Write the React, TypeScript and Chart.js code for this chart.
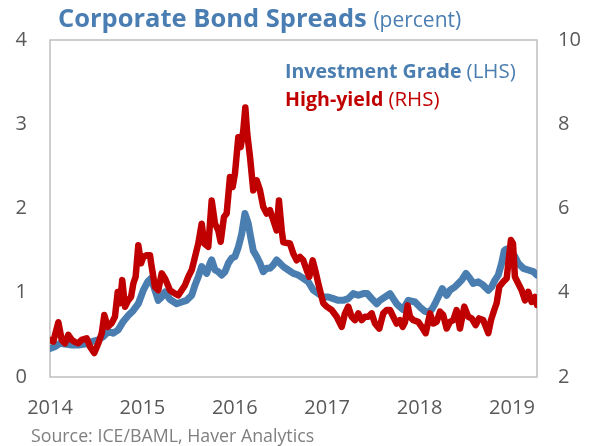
import React, { useEffect, useRef } from "react";
import { Chart, registerables } from "chart.js";

Chart.register(...registerables);

// ---- Data ----
const yearTicks = [2014, 2015, 2016, 2017, 2018, 2019];
const leftTicks = [0, 1, 2, 3, 4];
const rightTicks = [2, 4, 6, 8, 10];

const igDates = [
  2014.000, 2014.054, 2014.108, 2014.162, 2014.235, 2014.306, 2014.379, 2014.451, 2014.523, 2014.577,
  2014.631, 2014.685, 2014.739, 2014.793, 2014.847, 2014.902, 2014.956, 2015.010, 2015.057, 2015.093,
  2015.136, 2015.172, 2015.209, 2015.245, 2015.299, 2015.371, 2015.425, 2015.479, 2015.534, 2015.569,
  2015.605, 2015.642, 2015.696, 2015.732, 2015.750, 2015.786, 2015.821, 2015.858, 2015.894, 2015.930,
  2015.966, 2016.002, 2016.038, 2016.075, 2016.110, 2016.146, 2016.172, 2016.200, 2016.237, 2016.273,
  2016.308, 2016.345, 2016.381, 2016.417, 2016.453, 2016.489, 2016.525, 2016.579, 2016.633, 2016.687,
  2016.741, 2016.795, 2016.850, 2016.904, 2016.958, 2017.012, 2017.066, 2017.120, 2017.174, 2017.228,
  2017.282, 2017.337, 2017.391, 2017.434, 2017.482, 2017.536, 2017.571, 2017.626, 2017.680, 2017.715,
  2017.752, 2017.788, 2017.821, 2017.878, 2017.950, 2018.004, 2018.058, 2018.094, 2018.131, 2018.167,
  2018.202, 2018.246, 2018.293, 2018.329, 2018.383, 2018.419, 2018.456, 2018.502, 2018.545, 2018.581,
  2018.635, 2018.689, 2018.744, 2018.780, 2018.816, 2018.852, 2018.888, 2018.917, 2018.943, 2018.978,
  2019.032, 2019.068, 2019.122, 2019.176, 2019.231, 2019.271,
];
const igValues = [
  0.34, 0.36, 0.40, 0.39, 0.38, 0.38, 0.39, 0.42, 0.44, 0.48,
  0.54, 0.52, 0.56, 0.66, 0.73, 0.79, 0.87, 1.03, 1.13, 1.17,
  1.03, 0.91, 0.95, 1.01, 0.92, 0.87, 0.89, 0.91, 0.97, 1.09,
  1.19, 1.31, 1.23, 1.35, 1.39, 1.27, 1.25, 1.21, 1.25, 1.35,
  1.41, 1.43, 1.54, 1.70, 1.94, 1.82, 1.66, 1.50, 1.43, 1.35,
  1.25, 1.29, 1.29, 1.33, 1.39, 1.35, 1.31, 1.27, 1.23, 1.21,
  1.17, 1.13, 1.03, 0.99, 0.95, 0.95, 0.93, 0.91, 0.91, 0.93,
  0.99, 0.97, 0.99, 0.99, 0.93, 0.87, 0.91, 0.95, 0.99, 0.93,
  0.87, 0.83, 0.80, 0.91, 0.89, 0.83, 0.78, 0.77, 0.80, 0.87,
  0.95, 1.05, 0.97, 1.03, 1.07, 1.11, 1.15, 1.23, 1.17, 1.11,
  1.13, 1.09, 1.03, 1.07, 1.15, 1.21, 1.35, 1.50, 1.52, 1.50,
  1.43, 1.35, 1.29, 1.27, 1.25, 1.21,
];

const hyDates = [
  2014.000, 2014.036, 2014.090, 2014.127, 2014.162, 2014.198, 2014.235, 2014.271, 2014.306, 2014.343,
  2014.397, 2014.433, 2014.479, 2014.523, 2014.560, 2014.588, 2014.624, 2014.668, 2014.703, 2014.733,
  2014.758, 2014.782, 2014.812, 2014.847, 2014.877, 2014.902, 2014.927, 2014.956, 2014.985, 2015.010,
  2015.047, 2015.082, 2015.101, 2015.136, 2015.172, 2015.209, 2015.245, 2015.299, 2015.353, 2015.389,
  2015.425, 2015.461, 2015.497, 2015.534, 2015.569, 2015.605, 2015.642, 2015.670, 2015.713, 2015.750,
  2015.786, 2015.821, 2015.847, 2015.883, 2015.912, 2015.948, 2015.977, 2016.002, 2016.038, 2016.064,
  2016.092, 2016.114, 2016.135, 2016.165, 2016.200, 2016.237, 2016.273, 2016.308, 2016.345, 2016.381,
  2016.417, 2016.453, 2016.478, 2016.508, 2016.525, 2016.597, 2016.633, 2016.670, 2016.706, 2016.741,
  2016.778, 2016.806, 2016.843, 2016.879, 2016.904, 2016.940, 2016.958, 2016.995, 2017.049, 2017.103,
  2017.157, 2017.193, 2017.228, 2017.265, 2017.301, 2017.337, 2017.373, 2017.409, 2017.445, 2017.482,
  2017.517, 2017.564, 2017.607, 2017.644, 2017.680, 2017.715, 2017.752, 2017.788, 2017.817, 2017.842,
  2017.871, 2017.896, 2017.932, 2017.986, 2018.023, 2018.066, 2018.113, 2018.148, 2018.185, 2018.221,
  2018.256, 2018.293, 2018.329, 2018.365, 2018.401, 2018.437, 2018.484, 2018.527, 2018.564, 2018.607,
  2018.643, 2018.689, 2018.744, 2018.773, 2018.808, 2018.834, 2018.863, 2018.906, 2018.943, 2018.968,
  2018.989, 2019.011, 2019.032, 2019.068, 2019.105, 2019.141, 2019.176, 2019.213, 2019.249, 2019.271,
];
const hyValues = [
  2.88, 2.84, 3.30, 2.88, 2.80, 3.00, 2.88, 2.83, 2.80, 2.88,
  2.92, 2.72, 2.57, 2.80, 3.04, 3.47, 3.19, 3.28, 3.43, 4.02,
  3.75, 4.30, 3.67, 3.82, 3.90, 4.22, 4.38, 5.13, 4.70, 4.85,
  4.89, 4.89, 4.61, 4.14, 4.06, 4.46, 4.34, 4.06, 3.98, 3.94,
  4.06, 4.18, 4.38, 4.54, 4.85, 5.17, 5.64, 5.17, 5.09, 6.19,
  5.64, 5.48, 5.21, 5.80, 5.88, 6.75, 6.51, 6.83, 7.69, 7.46,
  7.85, 8.40, 7.77, 7.22, 6.43, 6.67, 6.43, 6.04, 5.88, 5.96,
  5.72, 5.48, 6.19, 5.48, 5.20, 5.17, 4.93, 4.77, 4.85, 4.77,
  4.54, 4.38, 4.77, 4.46, 4.22, 3.90, 3.75, 3.67, 3.59, 3.43,
  3.19, 3.51, 3.67, 3.43, 3.35, 3.51, 3.35, 3.43, 3.43, 3.51,
  3.27, 3.15, 3.51, 3.59, 3.59, 3.43, 3.27, 3.35, 3.19, 3.30,
  3.70, 3.43, 3.35, 3.31, 3.19, 3.04, 3.51, 3.27, 3.31, 3.55,
  3.47, 3.15, 3.31, 3.35, 3.59, 3.15, 3.67, 3.43, 3.39, 3.23,
  3.39, 3.35, 3.04, 3.35, 3.59, 3.75, 4.14, 4.26, 4.34, 4.85,
  5.25, 5.17, 4.38, 4.22, 4.06, 3.82, 4.02, 3.78, 3.90, 3.71,
];

const xMin = 2014;
const xMax = 2019.271;

// ---- Styles ----
const FONT = '"Open Sans", "DejaVu Sans", sans-serif';
const BLUE = "#4A7EB0";
const RED = "#C00000";
const TITLE_BLUE = "#4A7EB3";
const TICK_COLOR = "#595959";
const SOURCE_COLOR = "#7F7F7F";
const FRAME_COLOR = "#BFBFBF";

export default function App() {
  const ref = useRef<HTMLCanvasElement | null>(null);

  useEffect(() => {
    if (!ref.current) return;

    const textPlugin = {
      id: "frameAndTexts",
      beforeDatasetsDraw(chart: any) {
        const { ctx, chartArea } = chart;
        ctx.save();
        ctx.strokeStyle = FRAME_COLOR;
        ctx.lineWidth = 1.5;
        ctx.strokeRect(chartArea.left, chartArea.top, chartArea.right - chartArea.left, chartArea.bottom - chartArea.top);
        ctx.restore();
      },
      afterDraw(chart: any) {
        const ctx = chart.ctx as CanvasRenderingContext2D;
        ctx.save();
        ctx.textBaseline = "alphabetic";
        ctx.textAlign = "left";

        const mixed = (x: number, y: number, bold: string, normal: string, color: string, boldSize: number, normSize: number) => {
          ctx.fillStyle = color;
          ctx.font = `bold ${boldSize}px ${FONT}`;
          ctx.fillText(bold, x, y);
          const w = ctx.measureText(bold + " ").width;
          ctx.font = `${normSize}px ${FONT}`;
          ctx.fillText(normal, x + w, y);
        };

        // Title
        mixed(58, 27, "Corporate Bond Spreads", "(percent)", TITLE_BLUE, 25.5, 21);
        // Legend texts
        mixed(285, 78, "Investment Grade", "(LHS)", BLUE, 19.6, 20.5);
        mixed(285, 106, "High-yield", "(RHS)", RED, 19.6, 20.5);
        // Source
        ctx.fillStyle = SOURCE_COLOR;
        ctx.font = `17.8px ${FONT}`;
        ctx.fillText("Source: ICE/BAML, Haver Analytics", 31, 442);
        ctx.restore();
      },
    };

    const tickFont = { family: FONT, size: 20 };

    const chart = new Chart(ref.current, {
      type: "line",
      data: {
        datasets: [
          {
            label: "High-yield (RHS)",
            data: hyDates.map((d, i) => ({ x: d, y: hyValues[i] })),
            yAxisID: "y1",
            borderColor: RED,
            backgroundColor: RED,
            borderWidth: 6.5,
            pointRadius: 0,
            tension: 0,
            borderJoinStyle: "round",
            borderCapStyle: "round",
            order: 0,
          },
          {
            label: "Investment Grade (LHS)",
            data: igDates.map((d, i) => ({ x: d, y: igValues[i] })),
            yAxisID: "y",
            borderColor: BLUE,
            backgroundColor: BLUE,
            borderWidth: 7,
            pointRadius: 0,
            tension: 0,
            borderJoinStyle: "round",
            borderCapStyle: "round",
            order: 1,
          },
        ],
      },
      options: {
        responsive: false,
        animation: false,
        events: [],
        layout: { padding: { top: 40, left: 0, right: 0, bottom: 0 } },
        plugins: {
          legend: { display: false },
          title: { display: false },
          tooltip: { enabled: false },
        },
        scales: {
          x: {
            type: "linear",
            min: xMin,
            max: xMax,
            grid: { display: false, drawTicks: false },
            border: { display: false },
            afterBuildTicks: (scale: any) => {
              scale.ticks = yearTicks.map((v) => ({ value: v }));
            },
            afterFit: (scale: any) => {
              scale.height = 69;
            },
            ticks: {
              autoSkip: false,
              maxRotation: 0,
              padding: 19,
              color: TICK_COLOR,
              font: tickFont,
              callback: (v: any) => String(v),
            },
          },
          y: {
            type: "linear",
            position: "left",
            min: 0,
            max: 4,
            grid: { display: false, drawTicks: false },
            border: { display: false },
            afterBuildTicks: (scale: any) => {
              scale.ticks = leftTicks.map((v) => ({ value: v }));
            },
            afterFit: (scale: any) => {
              scale.width = 50;
            },
            ticks: {
              padding: 23,
              color: TICK_COLOR,
              font: tickFont,
              callback: (v: any) => String(v),
            },
          },
          y1: {
            type: "linear",
            position: "right",
            min: 2,
            max: 10,
            grid: { display: false, drawTicks: false },
            border: { display: false },
            afterBuildTicks: (scale: any) => {
              scale.ticks = rightTicks.map((v) => ({ value: v }));
            },
            afterFit: (scale: any) => {
              scale.width = 54;
            },
            ticks: {
              padding: 21,
              color: TICK_COLOR,
              font: tickFont,
              callback: (v: any) => String(v),
            },
          },
        },
      },
      plugins: [textPlugin],
    } as any);

    return () => chart.destroy();
  }, []);

  return (
    <div style={{ position: "absolute", left: 0, top: 0, width: 591, height: 446, background: "#fff" }}>
      <canvas ref={ref} width={591} height={446} style={{ width: 591, height: 446, display: "block" }} />
    </div>
  );
}
